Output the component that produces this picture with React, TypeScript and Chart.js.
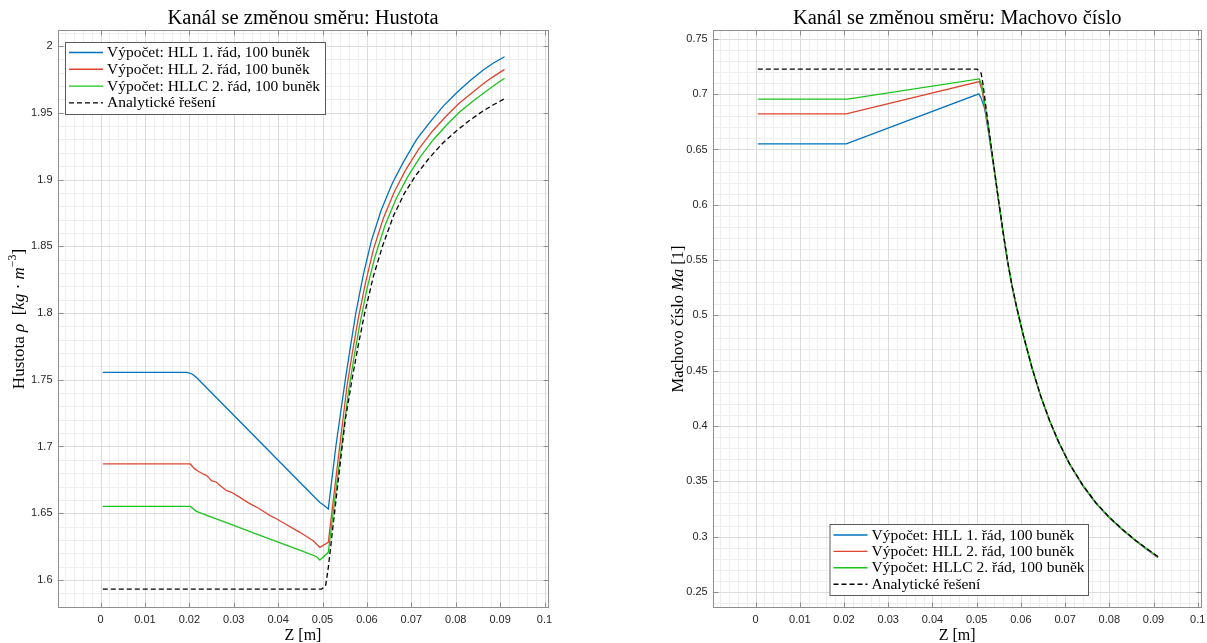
import React, { useEffect, useRef } from 'react';
import { Chart, registerables } from 'chart.js';
Chart.register(...registerables);

const SERIF = '"Liberation Serif", "Times New Roman", serif';
const SANS = '"Liberation Sans", Arial, sans-serif';

// ---------- tick labels ----------
const xTicks = [0, 0.01, 0.02, 0.03, 0.04, 0.05, 0.06, 0.07, 0.08, 0.09, 0.1];
const xTickLabels = ['0', '0.01', '0.02', '0.03', '0.04', '0.05', '0.06', '0.07', '0.08', '0.09', '0.1'];
const densTicks = [1.6, 1.65, 1.7, 1.75, 1.8, 1.85, 1.9, 1.95, 2];
const densTickLabels = ['1.6', '1.65', '1.7', '1.75', '1.8', '1.85', '1.9', '1.95', '2'];
const machTicks = [0.25, 0.3, 0.35, 0.4, 0.45, 0.5, 0.55, 0.6, 0.65, 0.7, 0.75];
const machTickLabels = ['0.25', '0.3', '0.35', '0.4', '0.45', '0.5', '0.55', '0.6', '0.65', '0.7', '0.75'];

const seriesLabels = [
  'Výpočet: HLL 1. řád, 100 buněk',
  'Výpočet: HLL 2. řád, 100 buněk',
  'Výpočet: HLLC 2. řád, 100 buněk',
  'Analytické řešení',
];

// ---------- density (Hustota) ----------
const densHll1X = [0.0005, 0.0195, 0.0205, 0.0215, 0.0250, 0.0300, 0.0350, 0.0400, 0.0450, 0.0494, 0.0503, 0.0513, 0.0530, 0.0551, 0.0563, 0.0575, 0.0592, 0.0610, 0.0632, 0.0657, 0.0682, 0.0712, 0.0742, 0.0772, 0.0802, 0.0832, 0.0862, 0.0886, 0.0910];
const densHll1Y = [1.7555, 1.7555, 1.7545, 1.7520, 1.7402, 1.7234, 1.7065, 1.6897, 1.6728, 1.6581, 1.6560, 1.6532, 1.7000, 1.7494, 1.7750, 1.8000, 1.8290, 1.8540, 1.8770, 1.8970, 1.9130, 1.9300, 1.9430, 1.9550, 1.9650, 1.9740, 1.9820, 1.9875, 1.9920];

const densHll2X = [0.0005, 0.0202, 0.0212, 0.0220, 0.0231, 0.0239, 0.0250, 0.0261, 0.0269, 0.0284, 0.0295, 0.0314, 0.0325, 0.0340, 0.0355, 0.0370, 0.0382, 0.0397, 0.0419, 0.0449, 0.0479, 0.0494, 0.0513, 0.0535, 0.0555, 0.0567, 0.0580, 0.0597, 0.0615, 0.0637, 0.0662, 0.0687, 0.0717, 0.0747, 0.0777, 0.0807, 0.0837, 0.0867, 0.0889, 0.0910];
const densHll2Y = [1.6870, 1.6869, 1.6832, 1.6814, 1.6794, 1.6782, 1.6744, 1.6732, 1.6707, 1.6669, 1.6657, 1.6619, 1.6594, 1.6564, 1.6539, 1.6507, 1.6482, 1.6457, 1.6414, 1.6357, 1.6294, 1.6244, 1.6282, 1.6900, 1.7450, 1.7700, 1.7950, 1.8230, 1.8480, 1.8710, 1.8910, 1.9070, 1.9230, 1.9360, 1.9470, 1.9570, 1.9650, 1.9730, 1.9780, 1.9825];

const densHllcX = [0.0005, 0.0202, 0.0216, 0.0250, 0.0300, 0.0350, 0.0400, 0.0450, 0.0487, 0.0494, 0.0513, 0.0537, 0.0558, 0.0570, 0.0583, 0.0600, 0.0618, 0.0640, 0.0665, 0.0690, 0.0720, 0.0750, 0.0780, 0.0810, 0.0840, 0.0870, 0.0890, 0.0910];
const densHllcY = [1.6551, 1.6551, 1.6514, 1.6471, 1.6409, 1.6346, 1.6283, 1.6221, 1.6174, 1.6149, 1.6207, 1.6850, 1.7400, 1.7650, 1.7900, 1.8180, 1.8420, 1.8650, 1.8850, 1.9010, 1.9170, 1.9300, 1.9410, 1.9510, 1.9590, 1.9665, 1.9713, 1.9758];

const densExactX = [0.0005, 0.0498, 0.0507, 0.0513, 0.0532, 0.0551, 0.0566, 0.0580, 0.0595, 0.0615, 0.0635, 0.0660, 0.0685, 0.0710, 0.0740, 0.0770, 0.0800, 0.0830, 0.0860, 0.0885, 0.0910];
const densExactY = [1.5932, 1.5932, 1.5957, 1.6094, 1.6647, 1.7194, 1.7494, 1.7750, 1.8000, 1.8280, 1.8500, 1.8730, 1.8900, 1.9030, 1.9160, 1.9270, 1.9360, 1.9440, 1.9510, 1.9560, 1.9605];

// ---------- Mach number ----------
const machHll1X = [0.0005, 0.0205, 0.0505, 0.0510, 0.0518, 0.0527, 0.0540, 0.0551, 0.0560, 0.0570, 0.0580, 0.0590, 0.0605, 0.0625, 0.0645, 0.0665, 0.0685, 0.0710, 0.0740, 0.0770, 0.0800, 0.0830, 0.0860, 0.0885, 0.0910];
const machHll1Y = [0.6551, 0.6551, 0.7003, 0.6964, 0.6873, 0.6650, 0.6300, 0.5990, 0.5740, 0.5480, 0.5260, 0.5075, 0.4825, 0.4525, 0.4265, 0.4045, 0.3855, 0.3655, 0.3460, 0.3300, 0.3170, 0.3060, 0.2960, 0.2885, 0.2812];

const machHll2X = [0.0005, 0.0205, 0.0506, 0.0512, 0.0527, 0.0540, 0.0551, 0.0560, 0.0570, 0.0580, 0.0590, 0.0605, 0.0625, 0.0645, 0.0665, 0.0685, 0.0710, 0.0740, 0.0770, 0.0800, 0.0830, 0.0860, 0.0885, 0.0910];
const machHll2Y = [0.6822, 0.6822, 0.7114, 0.7040, 0.6670, 0.6310, 0.5995, 0.5745, 0.5485, 0.5265, 0.5080, 0.4828, 0.4528, 0.4268, 0.4048, 0.3858, 0.3658, 0.3463, 0.3303, 0.3173, 0.3063, 0.2963, 0.2888, 0.2815];

const machHllcX = [0.0005, 0.0208, 0.0506, 0.0512, 0.0527, 0.0540, 0.0551, 0.0560, 0.0570, 0.0580, 0.0590, 0.0605, 0.0625, 0.0645, 0.0665, 0.0685, 0.0710, 0.0740, 0.0770, 0.0800, 0.0830, 0.0860, 0.0885, 0.0910];
const machHllcY = [0.6955, 0.6955, 0.7138, 0.7080, 0.6690, 0.6320, 0.6000, 0.5750, 0.5490, 0.5270, 0.5085, 0.4830, 0.4530, 0.4270, 0.4050, 0.3860, 0.3660, 0.3465, 0.3305, 0.3175, 0.3065, 0.2965, 0.2890, 0.2818];

const machExactX = [0.0005, 0.0501, 0.0510, 0.0514, 0.0527, 0.0540, 0.0551, 0.0560, 0.0570, 0.0580, 0.0590, 0.0605, 0.0625, 0.0645, 0.0665, 0.0685, 0.0710, 0.0740, 0.0770, 0.0800, 0.0830, 0.0860, 0.0885, 0.0910];
const machExactY = [0.7226, 0.7226, 0.7190, 0.7100, 0.6700, 0.6320, 0.6000, 0.5750, 0.5490, 0.5270, 0.5085, 0.4830, 0.4530, 0.4270, 0.4050, 0.3860, 0.3660, 0.3465, 0.3305, 0.3175, 0.3065, 0.2965, 0.2890, 0.2820];

// ---------- styles ----------
const COLORS = ['#0072BD', '#DE4430', '#1BC41B', '#000000'];
const DASHES: number[][] = [[], [], [], [5, 3]];
const AXIS_COLOR = '#8f8f8f';
const MAJOR_GRID = '#dcdcdc';
const MINOR_GRID = '#eeeeee';

type Seg = { t: string; i?: boolean; sup?: boolean };

function drawSegs(ctx: CanvasRenderingContext2D, segs: Seg[], size: number) {
  const fonts = segs.map((s) => `${s.i ? 'italic ' : ''}${s.sup ? size * 0.7 : size}px ${SERIF}`);
  const widths = segs.map((s, k) => {
    ctx.font = fonts[k];
    return ctx.measureText(s.t).width;
  });
  const total = widths.reduce((a, b) => a + b, 0);
  let x = -total / 2;
  segs.forEach((s, k) => {
    ctx.font = fonts[k];
    ctx.fillText(s.t, x, s.sup ? -size * 0.42 : 0);
    x += widths[k];
  });
}

interface PanelCfg {
  offset: number;
  width: number;
  padding: { left: number; right: number; top: number; bottom: number };
  yAxisWidth: number;
  yMin: number;
  yMax: number;
  yTicks: number[];
  yTickLabels: string[];
  yMinorStep: number;
  title: string;
  yLabel: Seg[];
  yLabelX: number;
  yLabelSize: number;
  legend: { x: number; y: number; w: number; h: number; row0: number; rowStep: number };
  series: { x: number[]; y: number[] }[];
}

function makePlugin(cfg: PanelCfg) {
  return {
    id: 'matlabAxes',
    beforeDatasetsDraw(chart: any) {
      const { ctx, chartArea: a, scales } = chart;
      const xs = scales.x;
      const ys = scales.y;
      ctx.save();
      ctx.lineWidth = 1;
      ctx.strokeStyle = MINOR_GRID;
      ctx.beginPath();
      const xStep = 0.002;
      for (let i = Math.ceil(xs.min / xStep); i * xStep <= xs.max + 1e-12; i++) {
        const px = Math.round(xs.getPixelForValue(i * xStep)) + 0.5;
        ctx.moveTo(px, a.top);
        ctx.lineTo(px, a.bottom);
      }
      const yStep = cfg.yMinorStep;
      for (let i = Math.ceil(ys.min / yStep - 1e-9); i * yStep <= ys.max + 1e-12; i++) {
        const py = Math.round(ys.getPixelForValue(i * yStep)) + 0.5;
        ctx.moveTo(a.left, py);
        ctx.lineTo(a.right, py);
      }
      ctx.stroke();
      ctx.strokeStyle = MAJOR_GRID;
      ctx.beginPath();
      xTicks.forEach((v) => {
        const px = Math.round(xs.getPixelForValue(v)) + 0.5;
        ctx.moveTo(px, a.top);
        ctx.lineTo(px, a.bottom);
      });
      cfg.yTicks.forEach((v) => {
        const py = Math.round(ys.getPixelForValue(v)) + 0.5;
        ctx.moveTo(a.left, py);
        ctx.lineTo(a.right, py);
      });
      ctx.stroke();
      ctx.restore();
    },
    afterDatasetsDraw(chart: any) {
      const { ctx, chartArea: a, scales } = chart;
      const xs = scales.x;
      const ys = scales.y;
      ctx.save();
      ctx.strokeStyle = AXIS_COLOR;
      ctx.lineWidth = 1;
      const L = Math.round(a.left) + 0.5;
      const R = Math.round(a.right) - 0.5;
      const T = Math.round(a.top) + 0.5;
      const B = Math.round(a.bottom) - 0.5;
      ctx.strokeRect(L, T, R - L, B - T);
      const tl = 5;
      ctx.beginPath();
      xTicks.forEach((v) => {
        const px = Math.round(xs.getPixelForValue(v)) + 0.5;
        ctx.moveTo(px, B);
        ctx.lineTo(px, B - tl);
        ctx.moveTo(px, T);
        ctx.lineTo(px, T + tl);
      });
      cfg.yTicks.forEach((v) => {
        const py = Math.round(ys.getPixelForValue(v)) + 0.5;
        ctx.moveTo(L, py);
        ctx.lineTo(L + tl, py);
        ctx.moveTo(R, py);
        ctx.lineTo(R - tl, py);
      });
      ctx.stroke();

      // legend
      const lg = cfg.legend;
      ctx.fillStyle = '#ffffff';
      ctx.fillRect(lg.x, lg.y, lg.w, lg.h);
      ctx.strokeStyle = '#5a5a5a';
      ctx.strokeRect(lg.x + 0.5, lg.y + 0.5, lg.w, lg.h);
      chart.data.datasets.forEach((ds: any, k: number) => {
        const cy = lg.y + lg.row0 + k * lg.rowStep;
        ctx.strokeStyle = ds.borderColor;
        ctx.lineWidth = 1.4;
        ctx.setLineDash(ds.borderDash || []);
        ctx.beginPath();
        ctx.moveTo(lg.x + 4, cy);
        ctx.lineTo(lg.x + 38, cy);
        ctx.stroke();
        ctx.setLineDash([]);
        ctx.fillStyle = '#000';
        ctx.font = `15.5px ${SERIF}`;
        ctx.textBaseline = 'middle';
        ctx.textAlign = 'left';
        ctx.fillText(ds.label, lg.x + 42, cy + 0.5);
      });

      const cx = (a.left + a.right) / 2;
      ctx.fillStyle = '#000';
      ctx.textAlign = 'left';
      ctx.textBaseline = 'alphabetic';
      ctx.save();
      ctx.translate(cx, 23.5);
      drawSegs(ctx, [{ t: cfg.title }], 20.5);
      ctx.restore();

      ctx.save();
      ctx.translate(cx, 640);
      drawSegs(ctx, [{ t: 'Z [m]' }], 16);
      ctx.restore();

      ctx.save();
      ctx.translate(cfg.yLabelX, (a.top + a.bottom) / 2);
      ctx.rotate(-Math.PI / 2);
      drawSegs(ctx, cfg.yLabel, cfg.yLabelSize);
      ctx.restore();

      ctx.restore();
    },
  };
}

function Panel({ cfg }: { cfg: PanelCfg }) {
  const ref = useRef<HTMLCanvasElement>(null);
  useEffect(() => {
    const datasets = cfg.series.map((s, k) => ({
      label: seriesLabels[k],
      data: s.x.map((v, i) => ({ x: v, y: s.y[i] })),
      borderColor: COLORS[k],
      borderWidth: 1.3,
      borderDash: DASHES[k],
      pointRadius: 0,
      fill: false,
      tension: 0,
      order: 3 - k,
    }));
    const chart = new Chart(ref.current as HTMLCanvasElement, {
      type: 'line',
      data: { datasets },
      options: {
        animation: false,
        responsive: false,
        devicePixelRatio: 1,
        events: [],
        layout: { padding: cfg.padding },
        plugins: { legend: { display: false }, tooltip: { enabled: false }, title: { display: false } },
        scales: {
          x: {
            type: 'linear',
            min: -0.0097,
            max: 0.1009,
            grid: { display: false, drawTicks: false, tickLength: 0 },
            border: { display: false },
            afterBuildTicks: (s: any) => {
              s.ticks = xTicks.map((v) => ({ value: v }));
            },
            afterFit: (s: any) => {
              s.height = 35;
            },
            ticks: {
              autoSkip: false,
              maxRotation: 0,
              padding: 5,
              color: '#262626',
              font: { family: SANS, size: 11 },
              callback: (_v: any, i: number) => xTickLabels[i],
            },
          },
          y: {
            type: 'linear',
            min: cfg.yMin,
            max: cfg.yMax,
            grid: { display: false, drawTicks: false, tickLength: 0 },
            border: { display: false },
            afterBuildTicks: (s: any) => {
              s.ticks = cfg.yTicks.map((v) => ({ value: v }));
            },
            afterFit: (s: any) => {
              s.width = cfg.yAxisWidth;
            },
            ticks: {
              autoSkip: false,
              padding: 5,
              color: '#262626',
              font: { family: SANS, size: 11 },
              callback: (_v: any, i: number) => cfg.yTickLabels[i],
            },
          },
        },
      } as any,
      plugins: [makePlugin(cfg)],
    });
    return () => chart.destroy();
  }, []);
  return (
    <canvas
      ref={ref}
      width={cfg.width}
      height={643}
      style={{ position: 'absolute', left: cfg.offset, top: 0, width: cfg.width, height: 643 }}
    />
  );
}

const leftCfg: PanelCfg = {
  offset: 0,
  width: 700,
  padding: { left: 0, right: 700 - 548.5, top: 30, bottom: 0 },
  yAxisWidth: 57.5,
  yMin: 1.579,
  yMax: 2.012,
  yTicks: densTicks,
  yTickLabels: densTickLabels,
  yMinorStep: 0.01,
  title: 'Kanál se změnou směru: Hustota',
  yLabel: [
    { t: 'Hustota ' },
    { t: 'ρ', i: true },
    { t: '  [' },
    { t: 'kg', i: true },
    { t: ' · ' },
    { t: 'm', i: true },
    { t: '−3', sup: true },
    { t: ']' },
  ],
  yLabelX: 23.5,
  yLabelSize: 17,
  legend: { x: 65, y: 42, w: 260, h: 72, row0: 10.5, rowStep: 16.8 },
  series: [
    { x: densHll1X, y: densHll1Y },
    { x: densHll2X, y: densHll2Y },
    { x: densHllcX, y: densHllcY },
    { x: densExactX, y: densExactY },
  ],
};

const rightCfg: PanelCfg = {
  offset: 600,
  width: 700,
  padding: { left: 112.7 - 55, right: 700 - 601.7, top: 30, bottom: 0 },
  yAxisWidth: 55,
  yMin: 0.2355,
  yMax: 0.758,
  yTicks: machTicks,
  yTickLabels: machTickLabels,
  yMinorStep: 0.01,
  title: 'Kanál se změnou směru: Machovo číslo',
  yLabel: [{ t: 'Machovo číslo ' }, { t: 'Ma', i: true }, { t: ' [1]' }],
  yLabelX: 83,
  yLabelSize: 16.5,
  legend: { x: 229.5, y: 524, w: 258.5, h: 71, row0: 11, rowStep: 16.4 },
  series: [
    { x: machHll1X, y: machHll1Y },
    { x: machHll2X, y: machHll2Y },
    { x: machHllcX, y: machHllcY },
    { x: machExactX, y: machExactY },
  ],
};

export default function App() {
  return (
    <div
      style={{
        position: 'fixed',
        left: 0,
        top: 0,
        width: 1207,
        height: 643,
        overflow: 'hidden',
        background: '#ffffff',
      }}
    >
      <Panel cfg={leftCfg} />
      <Panel cfg={rightCfg} />
    </div>
  );
}
